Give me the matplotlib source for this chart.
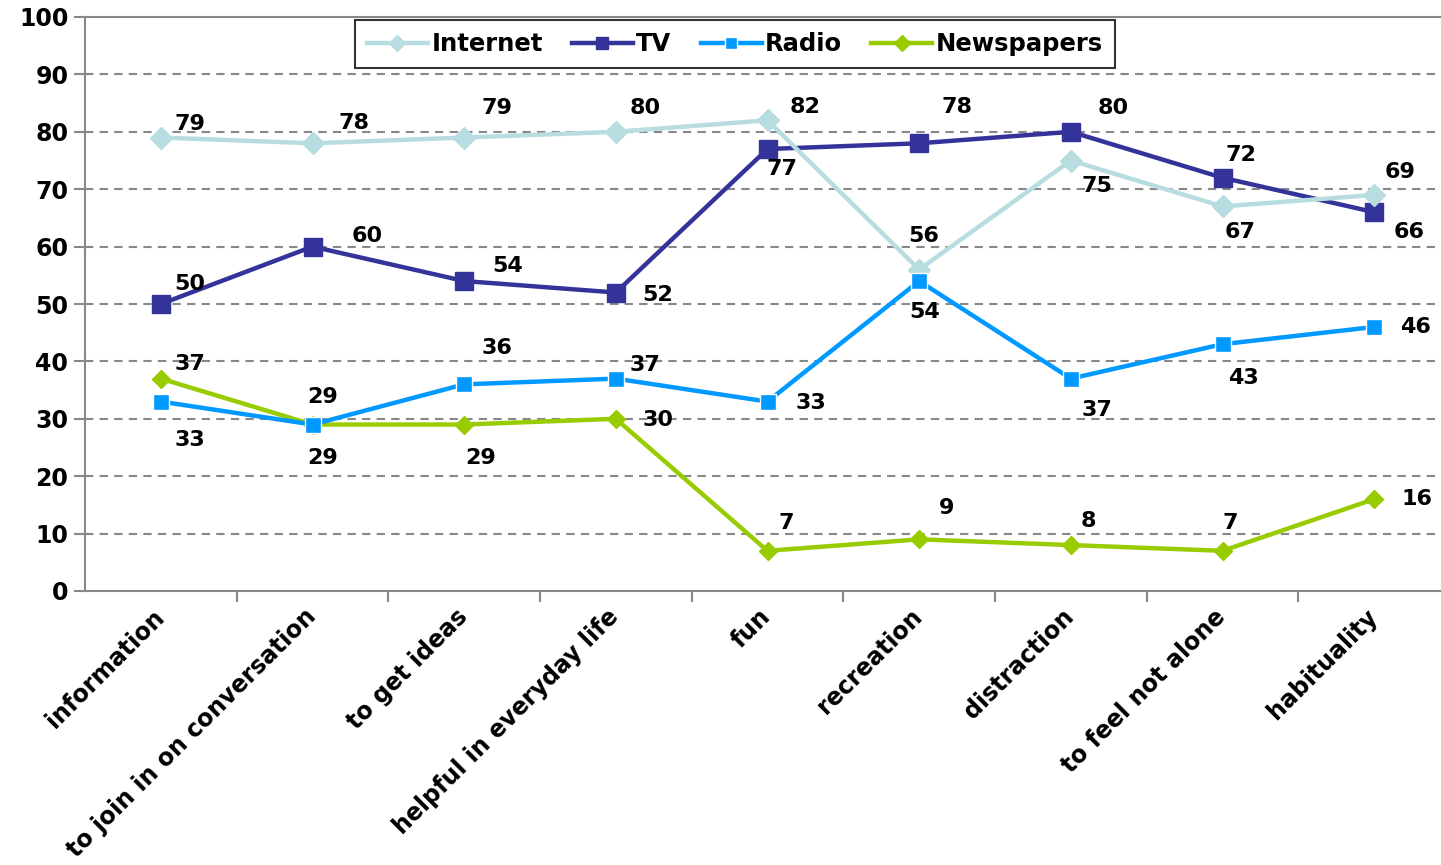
import matplotlib
matplotlib.use("Agg")
import matplotlib.pyplot as plt
import matplotlib.transforms as mtransforms

categories = ["information", "to join in on conversation", "to get ideas",
              "helpful in everyday life", "fun", "recreation", "distraction",
              "to feel not alone", "habituality"]
internet = [79, 78, 79, 80, 82, 56, 75, 67, 69]
tv = [50, 60, 54, 52, 77, 78, 80, 72, 66]
radio = [33, 29, 36, 37, 33, 54, 37, 43, 46]
newspapers = [37, 29, 29, 30, 7, 9, 8, 7, 16]

# label offsets in pixels (dx, dy) for each point
internet_off = [(29, 14), (42, 20), (33, 30), (29, 24), (38, 13), (5, 34), (26, -26), (18, -26), (26, 23)]
tv_off = [(29, 20), (55, 11), (43, 15), (42, -2), (14, -20), (38, 36), (42, 24), (18, 23), (35, -20)]
radio_off = [(29, -38), (10, 28), (33, 36), (29, 14), (43, -1), (5, -31), (26, -31), (21, -34), (41, 0)]
news_off = [(29, 15), (10, -33), (16, -33), (42, -1), (19, 28), (27, 31), (18, 24), (8, 28), (43, 0)]

W, H = 1441, 865
fig = plt.figure(figsize=(W / 100, H / 100), dpi=100)
ax = fig.add_axes([85 / W, 274 / H, (1450 - 85) / W, (591 - 17) / H])

x = list(range(len(categories)))
series = [
    ("Internet", internet, internet_off, "#B7DDE0", "D", 11, 4),
    ("TV", tv, tv_off, "#333399", "s", 13, 3),
    ("Radio", radio, radio_off, "#0099FF", "s", 11, 5),
    ("Newspapers", newspapers, news_off, "#99CC00", "D", 9, 2),
]
for name, vals, offs, color, mk, ms, z in series:
    ax.plot(x, vals, color=color, lw=3.2, marker=mk, markersize=ms,
            markeredgecolor="white" if name == "Radio" else color,
            markeredgewidth=1, label=name, zorder=z)
    for xi, v, (dx, dy) in zip(x, vals, offs):
        ax.annotate(str(v), (xi, v), xytext=(dx, dy), textcoords="offset pixels",
                    ha="center", va="center", fontsize=16, fontweight="bold",
                    color="black", zorder=10)

ax.set_xlim(-0.5, len(categories) - 0.5)
ax.set_ylim(0, 100)
ax.set_yticks(range(0, 101, 10))
ax.tick_params(axis="y", labelsize=17, length=8, color="#888888", width=1.5, pad=4)
for t in ax.get_yticklabels():
    t.set_fontweight("bold")

ax.set_xticks([i + 0.5 for i in range(len(categories) - 1)])
ax.set_xticklabels([])
ax.set_xticks(x, minor=True)
ax.set_xticklabels(categories, minor=True, rotation=45, ha="right", va="top",
                   rotation_mode="anchor", fontsize=17, fontweight="bold")
ax.tick_params(axis="x", which="major", length=8, color="#888888", width=1.5)
ax.tick_params(axis="x", which="minor", length=0, pad=12)
shift = mtransforms.ScaledTranslation(-9 / 100, 3 / 100, fig.dpi_scale_trans)
for lbl in ax.get_xticklabels(minor=True):
    lbl.set_transform(lbl.get_transform() + shift)

for y in range(10, 100, 10):
    ax.axhline(y, color="#888888", lw=1.5, ls=(0, (4, 3)), zorder=0)

for side in ["left", "bottom", "top"]:
    ax.spines[side].set_color("#888888")
    ax.spines[side].set_linewidth(1.5)
ax.spines["right"].set_visible(False)

leg = ax.legend(loc="upper center", bbox_to_anchor=((735 - 85) / (1450 - 85), 1 - 3 / 574),
                ncol=4, frameon=True, fancybox=False, edgecolor="black",
                prop={"size": 17.5, "weight": "bold"}, handlelength=2.5,
                handletextpad=0.15, columnspacing=1.2, borderpad=0.5,
                borderaxespad=0)
leg.get_frame().set_linewidth(1.5)
for h in leg.legend_handles:
    h.set_markersize(8)

fig.savefig("out.png", dpi=100)
